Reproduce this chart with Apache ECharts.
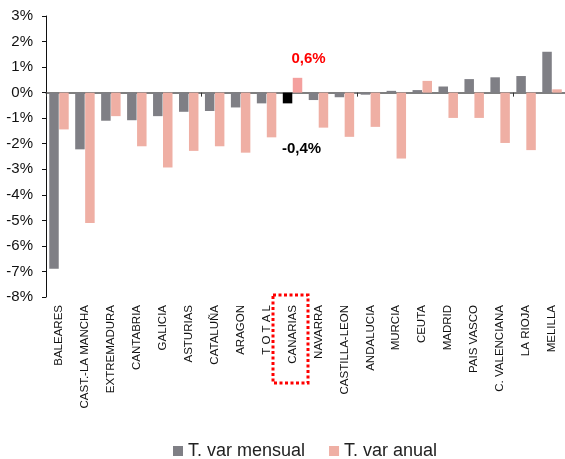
<!DOCTYPE html>
<html>
<head>
<meta charset="utf-8">
<script src="https://cdn.jsdelivr.net/npm/echarts@6/dist/echarts.min.js"></script>
<style>html,body{margin:0;padding:0;background:#fff}#c{width:565px;height:459px}</style>
</head>
<body>
<div id="c"></div>
<script>
const categories = ['BALEARES','CAST.-LA MANCHA','EXTREMADURA','CANTABRIA','GALICIA','ASTURIAS','CATALUÑA','ARAGON','T O T A L','CANARIAS','NAVARRA','CASTILLA-LEON','ANDALUCIA','MURCIA','CEUTA','MADRID','PAIS VASCO','C. VALENCIANA','LA RIOJA','MELILLA'];
const mensual = [-6.89,-2.22,-1.10,-1.08,-0.92,-0.75,-0.72,-0.58,-0.42,-0.42,-0.29,-0.18,-0.08,0.07,0.10,0.24,0.53,0.60,0.65,1.60];
const anual   = [-1.44,-5.10,-0.92,-2.10,-2.93,-2.28,-2.10,-2.35,-1.75,0.58,-1.37,-1.73,-1.34,-2.58,0.46,-0.99,-0.99,-1.97,-2.25,0.13];
const yTicks = {min:-8, max:3, interval:1};
const highlight = 'CANARIAS';
const labelMensual = '-0,4%';
const labelAnual = '0,6%';

const GRAY = '#7f7f85', PINK = '#efafa4';
const hi = categories.indexOf(highlight);

const mData = mensual.map((v,i)=> i===hi ? {
  value:v, itemStyle:{color:'#000'},
  label:{show:true, position:'bottom', offset:[14,33], formatter:labelMensual, color:'#000', fontWeight:'bold', fontSize:15, fontFamily:'Liberation Sans, Arial'}
} : v);
const aData = anual.map((v,i)=> i===hi ? {
  value:v, itemStyle:{color:'#f4a09e'},
  label:{show:true, position:'top', offset:[11,-6], formatter:labelAnual, color:'#ff0000', fontWeight:'bold', fontSize:15, fontFamily:'Liberation Sans, Arial'}
} : v);

const chart = echarts.init(document.getElementById('c'), null, {renderer:'canvas'});
chart.setOption({
  animation:false,
  textStyle:{fontFamily:'Liberation Sans, Arial'},
  grid:{left:46, right:0, top:16, bottom:162, containLabel:false},
  legend:{
    top:437, left:168, itemWidth:10, itemHeight:10, itemGap:24,
    icon:'rect',
    textStyle:{fontSize:18, color:'#222', fontFamily:'Liberation Sans, Arial'},
    data:['T. var mensual','T. var anual']
  },
  xAxis:[{
    type:'category', data:categories, position:'bottom',
    axisLine:{show:false, onZero:false}, axisTick:{show:false},
    axisLabel:{rotate:90, interval:0, fontSize:11.5, color:'#111', margin:8}
  },{
    type:'category', data:categories, position:'bottom',
    axisLine:{show:true, onZero:true, lineStyle:{color:'#555', width:1.5}},
    axisTick:{show:true, length:4, lineStyle:{color:'#333'}},
    axisLabel:{show:false}
  }],
  yAxis:{
    type:'value', min:yTicks.min, max:yTicks.max, interval:yTicks.interval,
    axisLine:{show:true, lineStyle:{color:'#111', width:1}},
    axisTick:{show:true, length:4, lineStyle:{color:'#111'}},
    splitLine:{show:false},
    axisLabel:{formatter:'{value}%', fontSize:15, color:'#111', margin:13}
  },
  series:[{
    name:'T. var mensual', type:'bar', xAxisIndex:0, data:mData,
    itemStyle:{color:GRAY}, barCategoryGap:'25%', barGap:'5%'
  },{
    name:'T. var anual', type:'bar', xAxisIndex:0, data:aData,
    itemStyle:{color:PINK}, barCategoryGap:'25%', barGap:'5%'
  }],
  graphic:[{
    type:'rect', shape:{x:273, y:295, width:35, height:88},
    style:{fill:'none', stroke:'#ff0000', lineWidth:3, lineDash:[3,2.5]}
  }]
});
</script>
</body>
</html>
